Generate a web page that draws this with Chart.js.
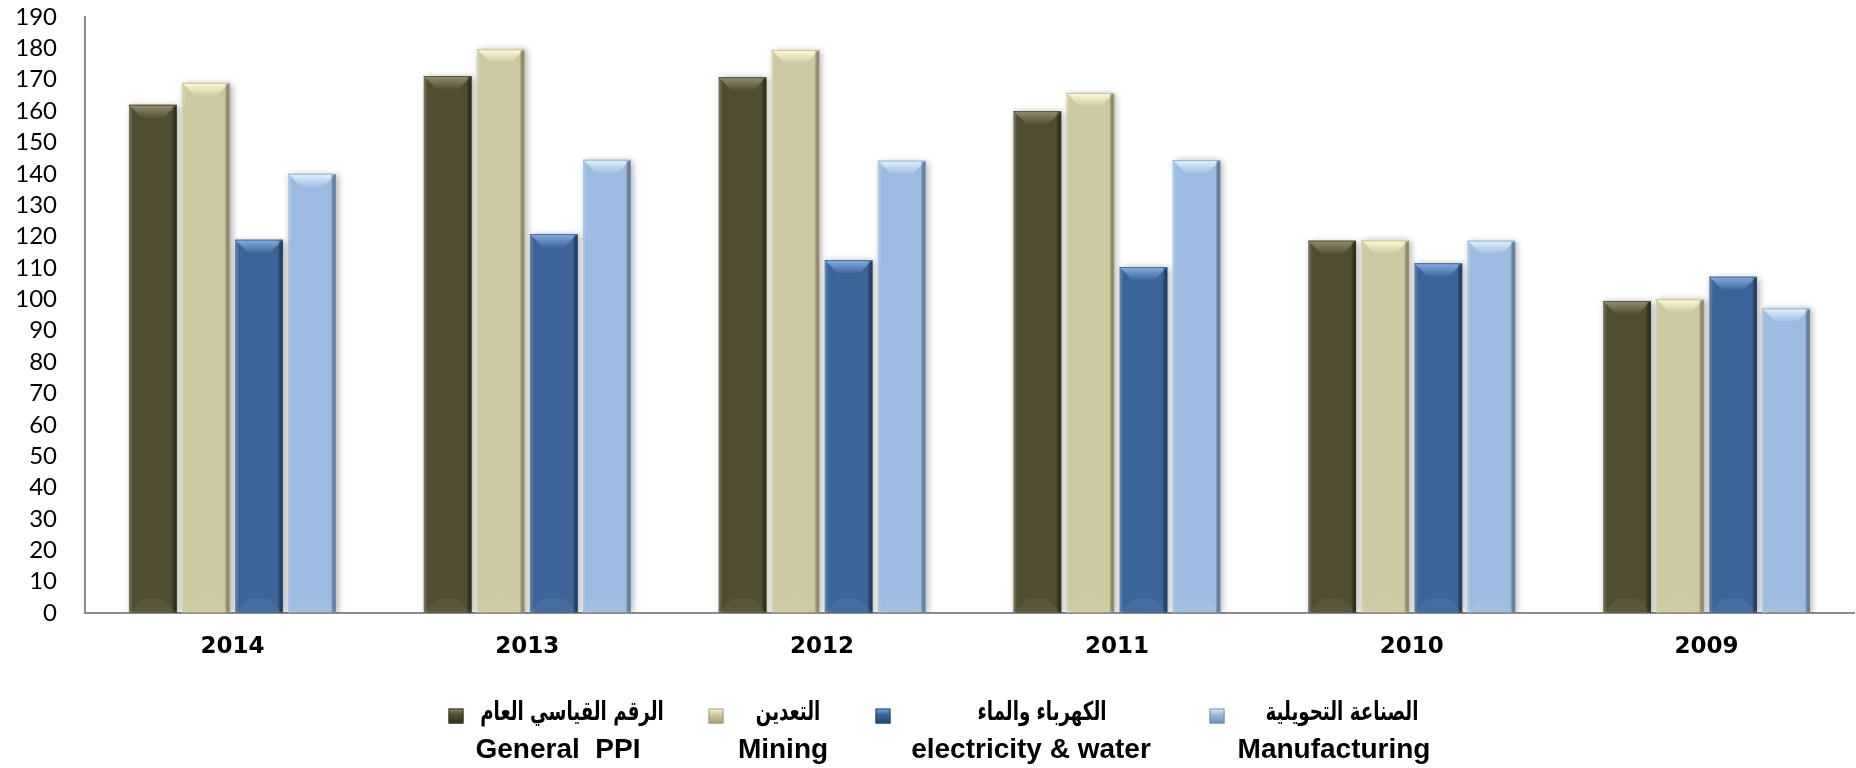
<!DOCTYPE html>
<html><head><meta charset="utf-8">
<script src="https://cdn.jsdelivr.net/npm/chart.js@4"></script>
<style>html,body{margin:0;padding:0;background:#fff;overflow:hidden}#wrap{width:1856px;height:768px;position:relative}</style>
</head><body><div id="wrap"><canvas id="c" width="1856" height="768"></canvas></div>
<script>
// ---- data ----
const years = ['2014', '2013', '2012', '2011', '2010', '2009'];
const generalPPI = [162, 171.2, 170.8, 160, 118.7, 99.5];
const mining = [169, 179.7, 179.5, 165.8, 118.8, 100];
const electricityWater = [119, 120.8, 112.5, 110.3, 111.5, 107.2];
const manufacturing = [140, 144.5, 144.2, 144.4, 118.7, 97.1];
const yMin = 0, yMax = 190, yStep = 10;
const seriesArabic = ['الرقم القياسي العام', 'التعدين', 'الكهرباء والماء', 'الصناعة التحويلية'];
const seriesEnglish = ['General  PPI', 'Mining', 'electricity & water', 'Manufacturing'];

// ---- styles ----
const baseColors = ['#514D31', '#CEC8A0', '#3B6598', '#9DBBE1'];
const lightColors = ['#938F70', '#FFF9D8', '#86AEE0', '#E2F2FF'];
const darkColors = ['#34321C', '#A39E78', '#24456E', '#6F8DB5'];

const bevelPlugin = {
  id: 'bevel',
  beforeDatasetsDraw(chart) {
    const ctx = chart.ctx;
    ctx.save();
    ctx.shadowColor = 'rgba(0,0,0,0.35)';
    ctx.shadowBlur = 7;
    ctx.shadowOffsetX = 2;
    ctx.shadowOffsetY = 1;
  },
  afterDatasetsDraw(chart) {
    const ctx = chart.ctx;
    ctx.restore();
    chart.data.datasets.forEach((ds, i) => {
      const meta = chart.getDatasetMeta(i);
      meta.data.forEach(el => {
        const p = el.getProps(['x', 'y', 'base', 'width'], true);
        const l = p.x - p.width / 2, r = p.x + p.width / 2, t = p.y, b = p.base;
        const bv = Math.min(14, p.width / 3.4, (b - t) / 2);
        // top bevel
        let g = ctx.createLinearGradient(0, t, 0, t + bv);
        g.addColorStop(0, lightColors[i]);
        g.addColorStop(1, baseColors[i]);
        ctx.fillStyle = g;
        ctx.beginPath();
        ctx.moveTo(l, t); ctx.lineTo(r, t); ctx.lineTo(r - bv, t + bv); ctx.lineTo(l + bv, t + bv); ctx.closePath();
        ctx.fill();
        // right shade
        g = ctx.createLinearGradient(r - 5, 0, r, 0);
        g.addColorStop(0, 'rgba(0,0,0,0)');
        g.addColorStop(1, darkColors[i]);
        ctx.fillStyle = g;
        ctx.fillRect(r - 5, t + 1, 5, b - t - 1);
        // left highlight
        g = ctx.createLinearGradient(l, 0, l + 4, 0);
        g.addColorStop(0, 'rgba(255,255,255,0.25)');
        g.addColorStop(1, 'rgba(255,255,255,0)');
        ctx.fillStyle = g;
        ctx.fillRect(l, t + 1, 4, b - t - 1);
        // bottom bevel (subtle)
        ctx.fillStyle = 'rgba(255,255,255,0.06)';
        ctx.beginPath();
        ctx.moveTo(l, b); ctx.lineTo(r, b); ctx.lineTo(r - bv, b - bv); ctx.lineTo(l + bv, b - bv); ctx.closePath();
        ctx.fill();
        // top edge
        ctx.strokeStyle = darkColors[i];
        ctx.globalAlpha = 0.6;
        ctx.lineWidth = 1;
        ctx.beginPath(); ctx.moveTo(l, t + 0.5); ctx.lineTo(r, t + 0.5); ctx.stroke();
        ctx.globalAlpha = 1;
      });
    });
  }
};

const legendPlugin = {
  id: 'twoLineLegend',
  afterDraw(chart) {
    const ctx = chart.ctx;
    const s = chart.width / 1856;
    const boxCenters = [456, 716, 883, 1217];
    const arCenters = [572, 788, 1042, 1342];
    const enCenters = [558, 783, 1031, 1334];
    const yAr = 713, yEn = 750, box = 15, arScaleX = 0.7;
    ctx.save();
    for (let i = 0; i < seriesArabic.length; i++) {
      const bx = boxCenters[i] * s - box / 2, by = yAr + 3 - box / 2;
      const g = ctx.createLinearGradient(0, by, 0, by + box);
      g.addColorStop(0, lightColors[i]);
      g.addColorStop(0.4, baseColors[i]);
      g.addColorStop(1, darkColors[i]);
      ctx.fillStyle = g;
      ctx.fillRect(bx, by, box, box);
      ctx.strokeStyle = darkColors[i];
      ctx.lineWidth = 1;
      ctx.strokeRect(bx + 0.5, by + 0.5, box - 1, box - 1);
      ctx.fillStyle = '#000';
      ctx.textBaseline = 'middle';
      // Arabic line (condensed bold)
      ctx.save();
      ctx.direction = 'rtl';
      ctx.textAlign = 'center';
      ctx.font = 'bold 26px "DejaVu Sans"';
      ctx.translate(arCenters[i] * s, yAr);
      ctx.scale(arScaleX, 1);
      ctx.fillText(seriesArabic[i], 0, 0);
      ctx.restore();
      // English line
      ctx.direction = 'ltr';
      ctx.textAlign = 'center';
      ctx.font = 'bold 28px "Liberation Sans", Arial, sans-serif';
      ctx.fillText(seriesEnglish[i], enCenters[i] * s, yEn);
    }
    ctx.restore();
  }
};

const mk = (label, data, i) => ({
  label, data,
  backgroundColor: baseColors[i],
  borderWidth: 0,
  categoryPercentage: 0.72,
  barPercentage: 0.9
});

new Chart(document.getElementById('c'), {
  type: 'bar',
  data: {
    labels: years,
    datasets: [
      mk(seriesEnglish[0], generalPPI, 0),
      mk(seriesEnglish[1], mining, 1),
      mk(seriesEnglish[2], electricityWater, 2),
      mk(seriesEnglish[3], manufacturing, 3)
    ]
  },
  options: {
    responsive: false,
    animation: false,
    layout: { padding: { top: 17, right: 2, left: 0, bottom: 0 } },
    plugins: { legend: { display: false }, tooltip: { enabled: false } },
    scales: {
      x: {
        grid: { display: true, color: 'rgba(0,0,0,0)', drawTicks: false },
        border: { display: true, color: '#8C8C8C', width: 2 },
        ticks: { color: '#000', padding: 20, font: { family: '"DejaVu Sans"', weight: 'bold', size: 23 } },
        afterFit(scale) { scale.height = 155; }
      },
      y: {
        min: yMin, max: yMax,
        grid: { display: true, color: 'rgba(0,0,0,0)', drawTicks: false },
        border: { display: true, color: '#8C8C8C', width: 2 },
        ticks: { stepSize: yStep, autoSkip: false, color: '#000', padding: 28, font: { family: 'Lato', size: 24 } },
        afterFit(scale) { scale.width = 85; scale.paddingTop = 14; scale.paddingBottom = 14; }
      }
    }
  },
  plugins: [bevelPlugin, legendPlugin]
});
</script>
</body></html>
